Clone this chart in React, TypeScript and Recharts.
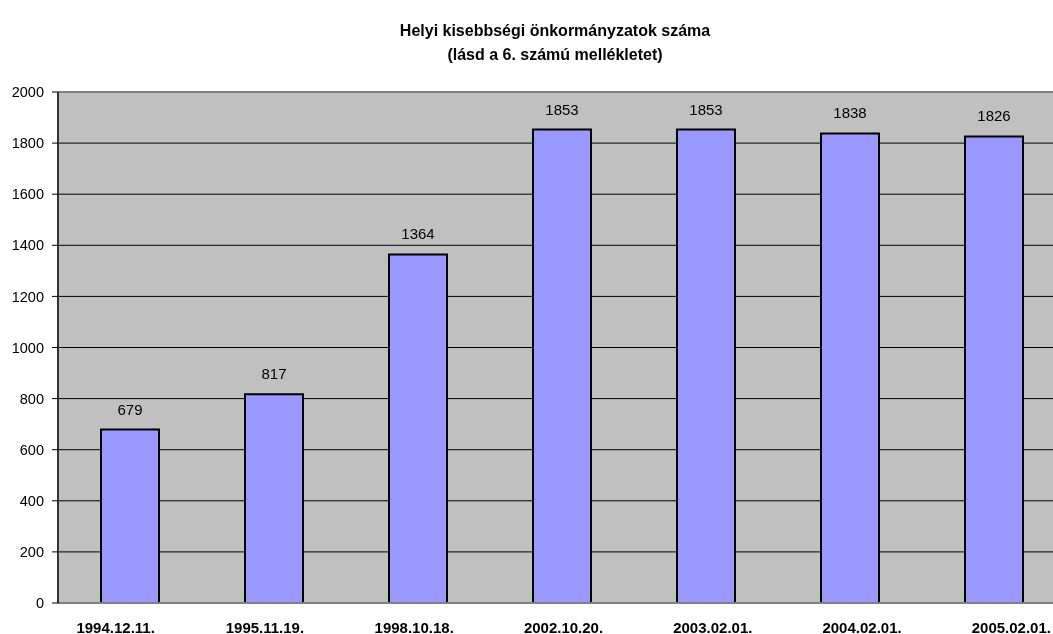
import { BarChart, Bar, XAxis, YAxis, CartesianGrid, LabelList, ReferenceLine } from 'recharts';

// dates of the counts
const dates = ['1994.12.11.', '1995.11.19.', '1998.10.18.', '2002.10.20.', '2003.02.01.', '2004.02.01.', '2005.02.01.'];
// number of local minority self-governments
const counts = [679, 817, 1364, 1853, 1853, 1838, 1826];
const yTicks = [0, 200, 400, 600, 800, 1000, 1200, 1400, 1600, 1800, 2000];

const data = dates.map((d, i) => ({ name: d, value: counts[i] }));

const font = '"Liberation Sans", Arial, sans-serif';

export default function App() {
  return (
    <div style={{ position: 'fixed', top: 8, left: 8, width: 1045, height: 626, overflow: 'hidden', fontFamily: font }}>
      <div
        style={{
          position: 'absolute',
          top: 11,
          left: 0,
          width: 1094,
          textAlign: 'center',
          fontWeight: 'bold',
          fontSize: 16,
          lineHeight: '24px',
          color: '#000',
        }}
      >
        Helyi kisebbségi önkormányzatok száma
        <br />
        (lásd a 6. számú mellékletet)
      </div>
      <BarChart
        width={1080}
        height={626}
        data={data}
        margin={{ top: 84, right: 22, left: 0, bottom: 0 }}
        barCategoryGap={0}
      >
        <CartesianGrid vertical={false} stroke="#000" strokeOpacity={1} fill="#C0C0C0" fillOpacity={1} />
        <XAxis
          xAxisId="labels"
          dataKey="name"
          height={31}
          axisLine={false}
          tickLine={false}
          tickSize={6}
          tickMargin={13}
          padding={{ left: -17, right: -20 }}
          interval={0}
          tick={{ fill: '#000', fontSize: 15, fontWeight: 'bold', fontFamily: font }}
        />
        <XAxis xAxisId="bars" dataKey="name" hide height={0} />
        <YAxis
          width={50}
          domain={[0, 2000]}
          ticks={yTicks}
          interval={0}
          tickSize={6}
          tickMargin={8}
          axisLine={{ stroke: '#333', strokeWidth: 2 }}
          tickLine={{ stroke: '#000' }}
          tick={{ fill: '#000', fontSize: 14.5, fontFamily: font }}
        />
        <ReferenceLine xAxisId="bars" y={2000} stroke="#808080" strokeWidth={2} />
        <ReferenceLine xAxisId="bars" y={0} stroke="#808080" strokeWidth={2} />
        <Bar xAxisId="bars" dataKey="value" barSize={58} fill="#9999FF" stroke="#000" strokeWidth={2} isAnimationActive={false}>
          <LabelList dataKey="value" position="top" offset={15} fill="#000" fontSize={15} fontFamily={font} />
        </Bar>
      </BarChart>
    </div>
  );
}
